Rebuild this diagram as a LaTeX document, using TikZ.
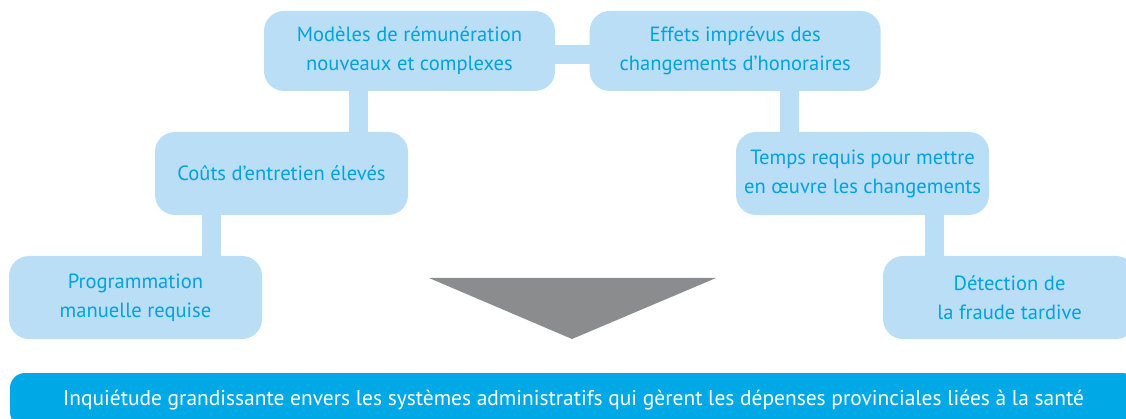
\documentclass[tikz,border=0pt]{standalone}
\usepackage{fontspec}
\setmainfont{PT Sans}
\usepackage{tikz}
\usetikzlibrary{positioning,backgrounds}
\definecolor{boxFill}{HTML}{B9DEF6}
\definecolor{boxText}{HTML}{00A3E0}
\definecolor{barFill}{HTML}{00A9E6}
\definecolor{arrowGray}{HTML}{8B8C8E}

\begin{document}
\begin{tikzpicture}[
  font=\fontsize{11.7}{16.5}\selectfont,
  issue/.style={fill=boxFill, text=boxText, rounded corners=0.4cm, align=center, minimum width=5.06cm, minimum height=1.66cm, inner sep=0pt},
  link/.style={draw=boxFill, line width=0.38cm},
  concern/.style={fill=barFill, text=white, rounded corners=0.3cm, minimum height=1.08cm, minimum width=22.54cm, inner sep=0pt, font=\fontsize{12.2}{14}\selectfont}
]
  \useasboundingbox (0,0) rectangle (22.52,-8.38);

  \node[issue, minimum width=5.82cm, minimum height=1.6cm] (models) at (8.19,-1.02) {Modèles de rémunération\\nouveaux et complexes};
  \node[issue, minimum width=5.82cm, minimum height=1.6cm, right=0.68cm of models] (effects) {Effets imprévus des\\changements d’honoraires};
  \node[issue] (costs) at (5.63,-3.47) {Coûts d’entretien élevés};
  \node[issue] (delay) at (17.25,-3.47) {Temps requis pour mettre\\en œuvre les changements};
  \node[issue] (manual) at (2.71,-5.95) {Programmation\\manuelle requise};
  \node[issue] (fraud) at (20.19,-5.95) {Détection de\\la fraude tardive};

  \node[concern] (concern) at (11.47,-8.0) {Inquiétude grandissante envers les systèmes administratifs qui gèrent les dépenses provinciales liées à la santé};

  % connecting bars behind the boxes
  \begin{scope}[on background layer]
    \draw[link] ([yshift=-0.08cm]models.center) -- ([yshift=-0.08cm]effects.center);
    \draw[link] ([xshift=-1.03cm]models.center) -- ([xshift=-1.03cm]models.center |- costs.center);
    \draw[link] ([xshift=1.08cm]effects.center) -- ([xshift=1.08cm]effects.center |- delay.center);
    \draw[link] ([xshift=-1.41cm]costs.center) -- ([xshift=-1.41cm]costs.center |- manual.center);
    \draw[link] ([xshift=1.43cm]delay.center) -- ([xshift=1.43cm]delay.center |- fraud.center);
  \end{scope}

  % big arrow down to the bar
  \fill[arrowGray] (8.58,-5.56) -- (14.32,-5.56) -- (11.44,-6.78) -- cycle;
\end{tikzpicture}
\end{document}
